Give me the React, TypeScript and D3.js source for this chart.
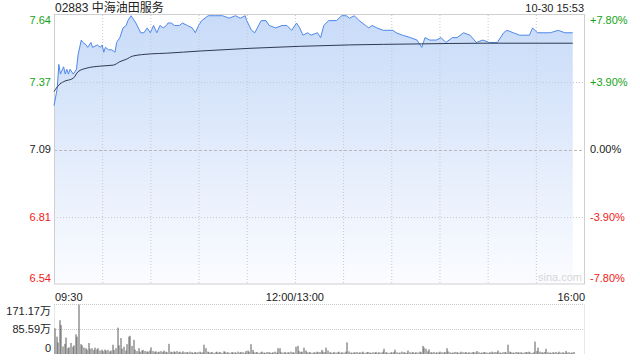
import React from "react";
import * as d3 from "d3";

const title = "02883 中海油田服务";
const stamp = "10-30 15:53";
const prevClose = 7.09;
const pctLimit = 7.8;
const leftTicks = ["7.64", "7.37", "7.09", "6.81", "6.54"];
const rightTicks = ["+7.80%", "+3.90%", "0.00%", "-3.90%", "-7.80%"];
const tickPct = [7.8, 3.9, 0, -3.9, -7.8];
const timeLabels = ["09:30", "12:00/13:00", "16:00"];
const volTicks = ["171.17万", "85.59万", "0"];
const volMax = 171.17;

const priceTimes = [
  "09:30","09:32","09:33","09:34","09:36","09:37","09:38","09:39","09:40","09:42",
  "09:44","09:45","09:47","09:48","09:50","09:51","09:53","09:54","09:57","09:59",
  "10:00","10:01","10:02","10:04","10:06","10:08","10:09","10:11","10:13","10:15",
  "10:16","10:18","10:19","10:21","10:24","10:26","10:28","10:30","10:32","10:34",
  "10:36","10:38","10:40","10:41","10:43","10:45","10:48","10:50","10:53","10:56",
  "10:58","11:00","11:02","11:06","11:10","11:15","11:19","11:23","11:26","11:29",
  "11:30","11:33","11:35","11:39","11:42","11:44","11:48","11:52","11:55","11:58",
  "13:01","13:03","13:05","13:08","13:10","13:14","13:16","13:18","13:21","13:23",
  "13:26","13:29","13:32","13:34","13:37","13:40","13:44","13:46","13:48","13:51",
  "13:55","14:01","14:03","14:07","14:12","14:16","14:19","14:21","14:24","14:28",
  "14:31","14:34","14:38","14:41","14:45","14:49","14:53","14:57","15:01","15:06",
  "15:10","15:12","15:16","15:20","15:26","15:28","15:31","15:35","15:39","15:44",
  "15:48","15:52","15:53"
];
const priceValues = [
  7.27,7.34,7.44,7.40,7.43,7.40,7.42,7.40,7.42,7.40,
  7.42,7.48,7.54,7.53,7.52,7.51,7.53,7.51,7.52,7.51,
  7.52,7.49,7.51,7.50,7.50,7.49,7.53,7.55,7.59,7.60,
  7.62,7.64,7.63,7.61,7.57,7.57,7.59,7.57,7.60,7.57,
  7.60,7.59,7.60,7.61,7.61,7.60,7.60,7.61,7.60,7.59,
  7.57,7.60,7.62,7.64,7.64,7.64,7.63,7.64,7.63,7.64,
  7.62,7.58,7.57,7.62,7.62,7.60,7.59,7.60,7.60,7.58,
  7.61,7.59,7.56,7.57,7.56,7.57,7.55,7.60,7.62,7.62,
  7.62,7.64,7.64,7.63,7.64,7.62,7.60,7.59,7.60,7.59,
  7.58,7.58,7.57,7.56,7.55,7.54,7.51,7.55,7.54,7.54,
  7.55,7.53,7.55,7.55,7.57,7.56,7.53,7.54,7.53,7.53,
  7.57,7.58,7.57,7.56,7.56,7.59,7.57,7.57,7.57,7.58,
  7.57,7.57,7.57
];

const avgTimes = ["09:30","09:33","09:36","09:42","09:45","09:50","09:59","10:07","10:11","10:15","10:19","10:30","10:40","11:01","11:32","13:34","14:16","14:57","15:53"];
const avgValues = [7.328,7.355,7.369,7.383,7.410,7.424,7.433,7.437,7.451,7.461,7.474,7.483,7.486,7.495,7.506,7.520,7.524,7.527,7.527];

// volume per minute from 09:30 (万股)
const volumes = [
  89,60,40,117,100,26,35,57,20,23,
  38,25,30,68,60,171,34,30,22,20,
  15,38,18,20,14,22,16,20,12,15,
  10,15,12,14,9,12,32,14,20,91,
  30,55,18,25,12,34,60,63,28,49,
  15,10,20,8,12,14,10,9,8,12,
  23,10,8,9,6,8,10,7,12,8,
  6,35,8,6,9,7,10,6,8,5,
  9,6,7,5,8,6,4,7,5,6,
  8,5,6,32,20,8,6,5,7,4,
  6,8,5,7,4,9,8,5,6,4,
  7,5,6,4,8,5,7,6,4,10,
  12,8,34,14,6,5,7,4,6,8,
  5,4,7,6,5,4,6,8,5,20,
  20,6,5,7,4,6,5,8,6,5,
  25,28,10,7,8,22,12,6,5,7,
  4,6,5,8,6,7,14,8,6,22,
  12,6,5,4,7,5,6,8,4,6,
  5,8,40,9,5,4,6,5,7,4,
  6,5,8,4,6,7,5,4,6,5,
  7,4,6,5,8,18,6,5,4,6,
  5,7,15,6,4,5,8,6,5,4,
  12,6,5,7,4,6,5,8,6,28,
  22,18,9,16,6,5,7,4,6,5,
  8,6,5,7,20,9,6,4,5,7,
  6,5,4,8,6,5,7,4,6,5,
  7,6,5,10,6,4,5,7,6,5,
  4,6,8,5,7,6,12,5,4,6,
  7,5,32,8,6,5,4,7,6,5,
  6,4,5,7,6,8,5,4,6,43,
  10,22,8,6,5,7,18,6,5,4,
  6,5,7,4,8,5,6,4,10,5,
  6,4,5,7
];

function minuteIndex(t: string): number {
  const [h, m] = t.split(":").map(Number);
  const mins = h * 60 + m;
  if (mins <= 12 * 60) return mins - (9 * 60 + 30);
  return 150 + (mins - 13 * 60);
}

const W = 640, H = 360;
const L = 54, R = 584, T = 15, B = 284;
const VT = 304.5, VB = 354;
const green = "#14a314";
const red = "#f02020";
const font = "Arial, 'Liberation Sans', 'Noto Sans CJK SC', sans-serif";

export default function App() {
  const x = d3.scaleLinear().domain([0, 330]).range([L, R]);
  const y = d3.scaleLinear()
    .domain([prevClose * (1 - pctLimit / 100), prevClose * (1 + pctLimit / 100)])
    .range([B, T]);
  const yv = d3.scaleLinear().domain([0, volMax]).range([VB, VT]);

  const pts = priceTimes.map((t, i) => [minuteIndex(t), priceValues[i]] as [number, number]);
  const line = d3.line<[number, number]>().x(d => x(d[0])).y(d => y(d[1]));
  const area = d3.area<[number, number]>().x(d => x(d[0])).y0(B).y1(d => y(d[1]));
  const avgPts = avgTimes.map((t, i) => [minuteIndex(t), avgValues[i]] as [number, number]);
  const avgLine = d3.line<[number, number]>().x(d => x(d[0])).y(d => y(d[1])).curve(d3.curveMonotoneX);

  const vGrid = d3.range(1, 11).map(i => i * 30);
  const gridY = tickPct.map(p => y(prevClose * (1 + p / 100)));
  const colorFor = (i: number) => (tickPct[i] > 0 ? green : tickPct[i] < 0 ? red : "#222");
  const labelY = (i: number) => (i === 0 ? gridY[i] + 5.5 : i === tickPct.length - 1 ? gridY[i] - 6 : gridY[i]);

  const volLineYs = [yv(volMax), yv(volMax / 2), yv(0)];
  const volLabelY = (i: number) => (i === 0 ? volLineYs[i] + 7 : i === 2 ? volLineYs[i] - 6 : volLineYs[i]);

  return (
    <svg width={W} height={H} style={{ position: "absolute", left: 0, top: 0, background: "#fff" }} fontFamily={font}>
      <defs>
        <linearGradient id="fillg" gradientUnits="userSpaceOnUse" x1="0" y1={T} x2="0" y2={B}>
          <stop offset="0" stopColor="#c8dbf8" />
          <stop offset="1" stopColor="#fbfcff" />
        </linearGradient>
      </defs>

      <text x={L + 1} y={11.5} fontSize={12} fill="#222">{title}</text>
      <text x={R} y={11.5} fontSize={11} fill="#222" textAnchor="end">{stamp}</text>

      <path d={area(pts) || ""} fill="url(#fillg)" />

      {vGrid.map(m => (
        <line key={m} x1={x(m) + 0.5} x2={x(m) + 0.5} y1={T} y2={B} stroke="#c8c8c8" strokeDasharray="1,2" />
      ))}
      {gridY.map((gy, i) => (i === 0 || i === gridY.length - 1) ? null : (
        <line key={i} x1={L} x2={R} y1={Math.round(gy) + 0.5} y2={Math.round(gy) + 0.5}
          stroke={tickPct[i] === 0 ? "#b8b8b8" : "#c8c8c8"}
          strokeDasharray={tickPct[i] === 0 ? "3,2" : "1,2"} />
      ))}
      <rect x={L + 0.5} y={T - 0.5} width={R - L} height={B - T + 0.5} fill="none" stroke="#cfcfcf" />

      <path d={line(pts) || ""} fill="none" stroke="#4f88ea" strokeWidth={1} />
      <path d={avgLine(avgPts) || ""} fill="none" stroke="#2e3a50" strokeWidth={1} />

      <text x={R - 2} y={B - 3} fontSize={11} fill="#d6d6d6" textAnchor="end">sina.com</text>

      {leftTicks.map((t, i) => (
        <text key={t} x={51} y={labelY(i)} dy="0.35em" fontSize={11} fill={colorFor(i)} textAnchor="end">{t}</text>
      ))}
      {rightTicks.map((t, i) => (
        <text key={t} x={590} y={labelY(i)} dy="0.35em" fontSize={11} fill={colorFor(i)}>{t}</text>
      ))}

      <text x={L + 1} y={297} dy="0.35em" fontSize={11} fill="#222">{timeLabels[0]}</text>
      <text x={x(150)} y={297} dy="0.35em" fontSize={11} fill="#222" textAnchor="middle">{timeLabels[1]}</text>
      <text x={R + 1} y={297} dy="0.35em" fontSize={11} fill="#222" textAnchor="end">{timeLabels[2]}</text>

      <line x1={L} x2={R} y1={VT} y2={VT} stroke="#c8c8c8" strokeDasharray="1,1" />
      <line x1={L} x2={R} y1={Math.round(yv(volMax / 2)) + 0.5} y2={Math.round(yv(volMax / 2)) + 0.5} stroke="#c8c8c8" strokeDasharray="1,1" />
      <line x1={L + 0.5} x2={L + 0.5} y1={VT} y2={VB} stroke="#d0d0d0" strokeDasharray="1,1" />
      <line x1={R + 0.5} x2={R + 0.5} y1={VT} y2={VB} stroke="#d0d0d0" strokeDasharray="1,1" />

      {volumes.map((v, i) => (
        <line key={i} x1={Math.round(x(i)) + 1} x2={Math.round(x(i)) + 1} y1={yv(0)} y2={yv(v)} stroke="#5a5a5a" strokeWidth={1} />
      ))}

      {volTicks.map((t, i) => (
        <text key={t} x={51} y={volLabelY(i)} dy="0.35em" fontSize={11} fill="#222" textAnchor="end">{t}</text>
      ))}
    </svg>
  );
}
